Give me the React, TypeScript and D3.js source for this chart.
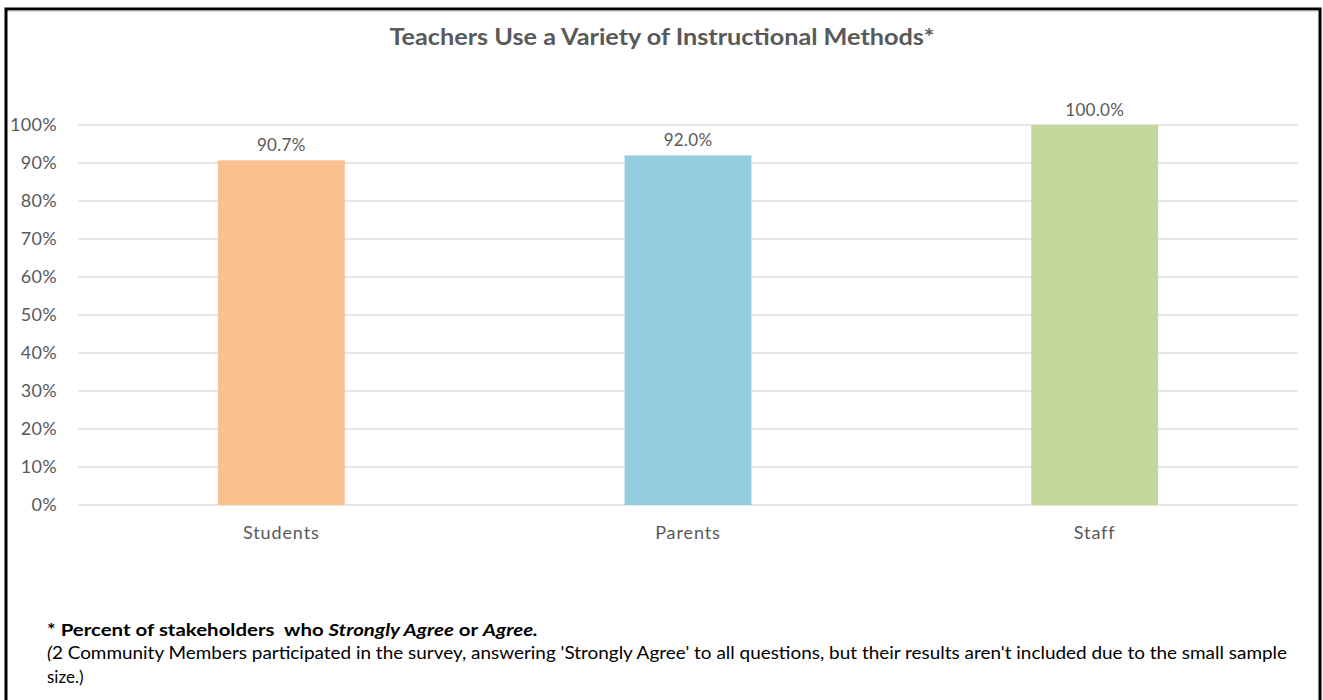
import React from "react";
import * as d3 from "d3";

const categories = ["Students", "Parents", "Staff"];
const values = [90.7, 92.0, 100.0];
const colors = ["#FAC090", "#93CDDD", "#C4D79B"];
const yTicks = [0, 10, 20, 30, 40, 50, 60, 70, 80, 90, 100];
const title = "Teachers Use a Variety of Instructional Methods*";

export default function App() {
  const W = 1323, H = 700;
  const left = 78, right = 1298, top = 125, bottom = 505;
  const x = d3.scaleBand<string>().domain(categories).range([left, right]).paddingInner(0.688).paddingOuter(0.344);
  const y = d3.scaleLinear().domain([0, 100]).range([bottom, top]);
  const font = "Lato, 'Open Sans', sans-serif";
  const grey = "#595959";
  return (
    <div style={{ position: "absolute", left: 0, top: 0, width: W, height: H, background: "#fff" }}>
      <svg width={W} height={H} style={{ display: "block" }}>
        <rect x={0} y={0} width={W} height={H} fill="#fff" />
        <rect x={6} y={9} width={1314} height={H + 10} fill="none" stroke="#000" strokeWidth={3} />
        <line x1={8} x2={1318} y1={11} y2={11} stroke="#bfbfbf" strokeWidth={1} />
        <text x={662} y={45} textAnchor="middle" fontFamily={font} fontWeight="bold" fontSize={23} fill={grey} textLength={545} lengthAdjust="spacingAndGlyphs">{title}</text>
        {yTicks.map((t) => (
          <g key={t}>
            <line x1={left} x2={right} y1={y(t)} y2={y(t)} stroke="#dedede" strokeWidth={1.5} />
            <text x={57} y={y(t) + 6} textAnchor="end" fontFamily={font} fontSize={18} letterSpacing={0.3} fill={grey}>{t}%</text>
          </g>
        ))}
        {categories.map((c, i) => (
          <g key={c}>
            <rect x={x(c)} y={y(values[i])} width={x.bandwidth()} height={bottom - y(values[i])} fill={colors[i]} />
            <text x={(x(c) as number) + x.bandwidth() / 2} y={y(values[i]) - 9} textAnchor="middle" fontFamily={font} fontSize={17} letterSpacing={0.3} fill={grey}>{values[i].toFixed(1)}%</text>
            <text x={(x(c) as number) + x.bandwidth() / 2} y={539} textAnchor="middle" fontFamily={font} fontSize={18} letterSpacing={0.9} fill={grey}>{c}</text>
          </g>
        ))}
        <text x={47} y={636} fontFamily={font} fontSize={17} fontWeight="bold" fill="#000" textLength={491} lengthAdjust="spacingAndGlyphs" style={{ whiteSpace: "pre" }}>
          * Percent of stakeholders  who <tspan fontStyle="italic">Strongly Agree</tspan> or <tspan fontStyle="italic">Agree.</tspan>
        </text>
        <text x={47} y={659} fontFamily={font} fontSize={17} fill="#000" textLength={1240} lengthAdjust="spacingAndGlyphs">
          <tspan fontStyle="italic">(</tspan>2 Community Members participated in the survey, answering 'Strongly Agree' to all questions, but their results aren't included due to the small sample
        </text>
        <text x={47} y={683} fontFamily={font} fontSize={17} fill="#000">size.)</text>
      </svg>
    </div>
  );
}
